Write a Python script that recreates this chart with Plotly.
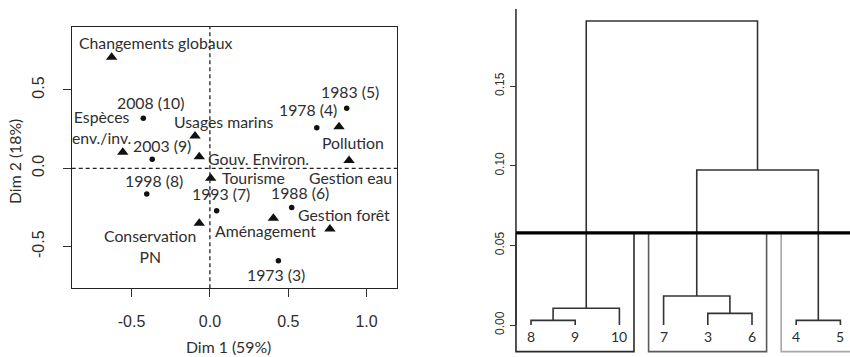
import plotly.graph_objects as go

# ---------------- Left panel data (correspondence analysis) ----------------
var_names = ["Changements globaux", "Espèces<br>env./inv.", "Usages marins", "Gouv. Environ.",
             "Pollution", "Gestion eau", "Tourisme", "Aménagement", "Gestion forêt",
             "Conservation<br>PN"]
var_x = [-0.627, -0.556, -0.095, -0.068, 0.824, 0.888, 0.005, 0.405, 0.766, -0.068]
var_y = [0.708, 0.102, 0.206, 0.074, 0.265, 0.049, -0.064, -0.319, -0.387, -0.351]
var_lab_x = [-0.35, -0.689, 0.088, 0.313, 0.913, 0.900, 0.275, 0.352, 0.853, -0.382]
var_lab_y = [0.80, 0.263, 0.297, 0.064, 0.166, -0.056, -0.057, -0.394, -0.294, -0.497]

year_names = ["1973 (3)", "1978 (4)", "1983 (5)", "1988 (6)", "1993 (7)",
              "1998 (8)", "2003 (9)", "2008 (10)"]
year_x = [0.437, 0.682, 0.873, 0.522, 0.043, -0.403, -0.368, -0.425]
year_y = [-0.590, 0.259, 0.383, -0.251, -0.271, -0.164, 0.057, 0.319]
year_lab_x = [0.422, 0.626, 0.894, 0.575, 0.071, -0.357, -0.306, -0.379]
year_lab_y = [-0.681, 0.372, 0.493, -0.153, -0.160, -0.079, 0.144, 0.417]

x_ticks = [-0.5, 0.0, 0.5, 1.0]
x_tick_text = ["-0.5", "0.0", "0.5", "1.0"]
y_ticks = [-0.5, 0.0, 0.5]
y_tick_text = ["-0.5", "0.0", "0.5"]

# ---------------- Right panel data (dendrogram) ----------------
leaf_labels = ["8", "9", "10", "7", "3", "6", "4", "5"]
# merges: (left, right, height); negative = leaf index (1-based in leaf order), positive = merge number
merges = [
    (-1, -2, 0.0029),   # 8 + 9
    (-7, -8, 0.0029),   # 4 + 5
    (-5, -6, 0.0073),   # 3 + 6
    (1, -3, 0.0105),    # (8,9) + 10
    (-4, 3, 0.0182),    # 7 + (3,6)
    (5, 2, 0.0973),     # (7,3,6) + (4,5)
    (4, 6, 0.1908),     # top
]
cut_height = 0.0578
rect_groups = [(1, 3), (4, 6), (7, 8)]
rect_colors = ["#2a2a2a", "#5a5a5a", "#a8a8a8"]
rect_bottom = -0.0167
d_ticks = [0.0, 0.05, 0.10, 0.15]
d_tick_text = ["0.00", "0.05", "0.10", "0.15"]
axis_top = 0.1983

FIG_W, FIG_H = 850, 357
TXT = "#2e2e2e"
LAB_FONT = dict(family="Lato", size=15.8, color=TXT)

fig = go.Figure()

# dashed reference lines
fig.add_shape(type="line", xref="x", yref="y domain", x0=0, x1=0, y0=0, y1=1,
              line=dict(color="#222", width=1.3, dash="4px,3px"))
fig.add_shape(type="line", xref="x domain", yref="y", x0=0, x1=1, y0=0, y1=0,
              line=dict(color="#222", width=1.3, dash="4px,3px"))

fig.add_trace(go.Scatter(x=var_x, y=var_y, mode="markers", xaxis="x", yaxis="y",
                         marker=dict(symbol="triangle-up", size=10, color="#111"),
                         showlegend=False, hoverinfo="skip"))
fig.add_trace(go.Scatter(x=year_x, y=year_y, mode="markers", xaxis="x", yaxis="y",
                         marker=dict(symbol="circle", size=5.5, color="#111"),
                         showlegend=False, hoverinfo="skip"))

for t, x, y in zip(var_names, var_lab_x, var_lab_y):
    fig.add_annotation(x=x, y=y, xref="x", yref="y", text=t, showarrow=False,
                       font=LAB_FONT, xanchor="center", yanchor="middle")
for t, x, y in zip(year_names, year_lab_x, year_lab_y):
    fig.add_annotation(x=x, y=y, xref="x", yref="y", text=t, showarrow=False,
                       font=LAB_FONT, xanchor="center", yanchor="middle")

# axis titles
fig.add_annotation(x=228 / FIG_W, y=1 - 346 / FIG_H, xref="paper", yref="paper",
                   text="Dim 1 (59%)", showarrow=False, font=LAB_FONT,
                   xanchor="center", yanchor="middle")
fig.add_annotation(x=15 / FIG_W, y=1 - 162 / FIG_H, xref="paper", yref="paper",
                   text="Dim 2 (18%)", showarrow=False, font=LAB_FONT, textangle=-90,
                   xanchor="center", yanchor="middle")

# ---------------- Dendrogram geometry from merges ----------------
pos = {}
hgt = {}
def node_xy(n):
    if n < 0:
        return float(-n), 0.0
    return pos[n], hgt[n]

seg_x, seg_y = [], []
for k, (a, b, h) in enumerate(merges, start=1):
    xa, ha = node_xy(a)
    xb, hb = node_xy(b)
    seg_x += [xa, xa, xb, xb, None]
    seg_y += [ha, h, h, hb, None]
    pos[k] = (xa + xb) / 2
    hgt[k] = h

for (g0, g1), col in zip(rect_groups, rect_colors):
    x0, x1 = g0 - 0.34, g1 + 0.33
    fig.add_trace(go.Scatter(x=[x0, x0, x1, x1], y=[cut_height, rect_bottom, rect_bottom, cut_height],
                             mode="lines", xaxis="x2", yaxis="y2",
                             line=dict(color=col, width=1.6), showlegend=False, hoverinfo="skip"))

fig.add_trace(go.Scatter(x=seg_x, y=seg_y, mode="lines", xaxis="x2", yaxis="y2",
                         line=dict(color="#333", width=1.6), showlegend=False, hoverinfo="skip"))

# y axis spine
fig.add_trace(go.Scatter(x=[0.66, 0.66], y=[0, axis_top], mode="lines", xaxis="x2", yaxis="y2",
                         line=dict(color="#333", width=1.6), showlegend=False, hoverinfo="skip"))
# cut line
fig.add_trace(go.Scatter(x=[0.66, 9.0], y=[cut_height, cut_height], mode="lines", xaxis="x2", yaxis="y2",
                         line=dict(color="#000", width=3.2), showlegend=False, hoverinfo="skip"))

for i, t in enumerate(leaf_labels, start=1):
    fig.add_annotation(x=i, y=-0.0073, xref="x2", yref="y2", text=t, showarrow=False,
                       font=dict(family="Lato", size=14, color=TXT),
                       xanchor="center", yanchor="middle")

# ---------------- Axes ----------------
PX_UNIT_R = 44.2
LEAF1_PX = 531.0
r_left_px = 508.0
x2_range = [1 + (r_left_px - LEAF1_PX) / PX_UNIT_R, 1 + (FIG_W - LEAF1_PX) / PX_UNIT_R]
spine_px = LEAF1_PX - 0.34 * PX_UNIT_R
D_ZERO_PX, D_PX_UNIT = 325.0, 1593.3
y2_range = [(D_ZERO_PX - FIG_H) / D_PX_UNIT, D_ZERO_PX / D_PX_UNIT]

tick_font_l = dict(family="Liberation Sans, Arial", size=16, color=TXT)
tick_font_r = dict(family="Liberation Sans, Arial", size=12, color=TXT)

fig.update_layout(
    width=FIG_W, height=FIG_H, autosize=False,
    margin=dict(l=0, r=0, t=0, b=0),
    paper_bgcolor="white", plot_bgcolor="white",
    xaxis=dict(domain=[71.7 / FIG_W, 397 / FIG_W], range=[-0.882, 1.194],
               tickvals=x_ticks, ticktext=x_tick_text, ticks="outside", ticklen=8,
               tickwidth=1.2, tickcolor="#333", showline=True, mirror=True,
               linecolor="#222", linewidth=1.3, showgrid=False, zeroline=False,
               tickfont=tick_font_l, ticklabelstandoff=10, anchor="y"),
    yaxis=dict(domain=[1 - 288.3 / FIG_H, 1 - 26.7 / FIG_H], range=[-0.766, 0.9036],
               tickvals=y_ticks, ticktext=y_tick_text, ticks="outside", ticklen=8,
               tickwidth=1.2, tickcolor="#333", showline=True, mirror=True,
               linecolor="#222", linewidth=1.3, showgrid=False, zeroline=False,
               tickfont=tick_font_l, tickangle=-90, ticklabelstandoff=12, anchor="x"),
    xaxis2=dict(domain=[r_left_px / FIG_W, 1.0], range=x2_range, visible=False, anchor="y2"),
    yaxis2=dict(domain=[0, 1], range=y2_range, anchor="free", position=spine_px / FIG_W,
                tickvals=d_ticks, ticktext=d_tick_text, ticks="outside", ticklen=6,
                tickwidth=1.2, tickcolor="#333", showline=False, showgrid=False,
                zeroline=False, tickfont=tick_font_r, tickangle=-90, ticklabelstandoff=1),
)

fig.write_html("out.html")
